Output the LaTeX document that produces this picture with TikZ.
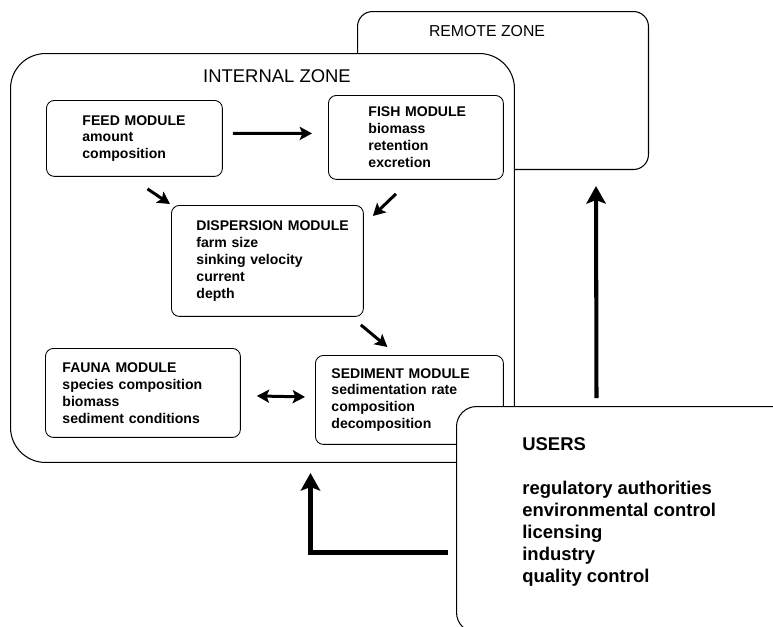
\documentclass[tikz,border=0pt]{standalone}
\usepackage{fontspec}
\setmainfont{Liberation Sans}
\usetikzlibrary{arrows.meta}

\newcommand{\modfont}{\fontsize{8}{9.6}\selectfont\bfseries\hyphenpenalty=10000\relax}

\begin{document}
\begin{tikzpicture}[x=0.02cm, y=-0.02cm,
	zone/.style={draw, fill=white, line width=0.6pt, inner sep=0pt, anchor=north west},
	module/.style={draw, fill=white, rounded corners=0.16cm, line width=0.5pt, anchor=north west, align=left, inner sep=0pt, font=\modfont},
	title/.style={font=\fontsize{10.5}{12}\selectfont},
	arr/.style={-{Stealth[length=7pt,width=7.5pt,inset=1.5pt]}, line width=1.7pt},
	dblarr/.style={{Stealth[length=7pt,width=7.5pt,inset=1.5pt]}-{Stealth[length=7pt,width=7.5pt,inset=1.5pt]}, line width=1.7pt},
	bigarr/.style={-{Stealth[length=10pt,width=11pt,inset=2pt]}, line width=2.3pt}]
	
	% Fix page size
	\useasboundingbox (0,0) rectangle (773,626);
	\clip (0,0) rectangle (773,626);
	
	% Draw zones
	\node[zone, rounded corners=0.3cm, minimum width=5.82cm, minimum height=3.16cm] (remote) at (357,11) {};
	\node[title, font=\fontsize{9}{11}\selectfont] (remotetitle) at (487,31) {REMOTE ZONE};
	\node[zone, rounded corners=0.7cm, minimum width=10.08cm, minimum height=8.18cm] (internal) at (10,53) {};
	\node[title] (internaltitle) at (277,76) {INTERNAL ZONE};
	
	% Draw modules
	\node[module, minimum width=3.52cm, minimum height=1.52cm, text width=2.08cm] (feed) at (46,100) {FEED~MODULE\\amount\\composition};
	\node[module, minimum width=3.5cm, minimum height=1.68cm, text width=1.9cm] (fish) at (328,95) {FISH~MODULE\\biomass\\retention\\excretion};
	\node[module, minimum width=3.84cm, minimum height=2.22cm, text width=2.84cm] (disp) at (171,205) {DISPERSION~MODULE\\farm size\\sinking velocity\\current\\depth};
	\node[module, minimum width=3.9cm, minimum height=1.78cm, text width=3.22cm] (fauna) at (45,348) {FAUNA~MODULE\\species composition\\biomass\\sediment conditions};
	\node[module, minimum width=3.76cm, minimum height=1.78cm, text width=3.12cm] (sed) at (315,355) {SEDIMENT~MODULE\\sedimentation rate\\composition\\decomposition};
	
	% Draw users
	\node[zone, rounded corners=0.4cm, minimum width=6.8cm, minimum height=4.52cm] (users) at (456,406) {};
	\node[anchor=north west, align=left, inner sep=0pt, font=\fontsize{10.5}{12.5}\selectfont\bfseries] (userstext) at (522,437) {USERS\\[12.5pt]regulatory authorities\\environmental control\\licensing\\industry\\quality control};
	
	% Arrows between modules
	\draw[arr] ([shift={(10,-5)}]feed.east) -- ([shift={(-16,-4)}]fish.west);
	\draw[arr] ([shift={(13,12)}]feed.south) -- ([shift={(-1,-1)}]disp.north west);
	\draw[arr] ([shift={(-20,14)}]fish.south) -- ([shift={(9,11)}]disp.north east);
	\draw[arr] ([shift={(-3,8)}]disp.south east) -- ([shift={(-22,-8)}]sed.north);
	\draw[dblarr] ([shift={(16,3)}]fauna.east) -- ([shift={(-10,-3)}]sed.west);
	
	% Arrows from users
	\draw[bigarr] ([shift={(-30,-8)}]users.north) -- ([shift={(93,16)}]remote.south);
	\draw[bigarr] ([shift={(-8,33)}]users.west) -| ([shift={(48,10)}]internal.south);
	
\end{tikzpicture}
\end{document}
